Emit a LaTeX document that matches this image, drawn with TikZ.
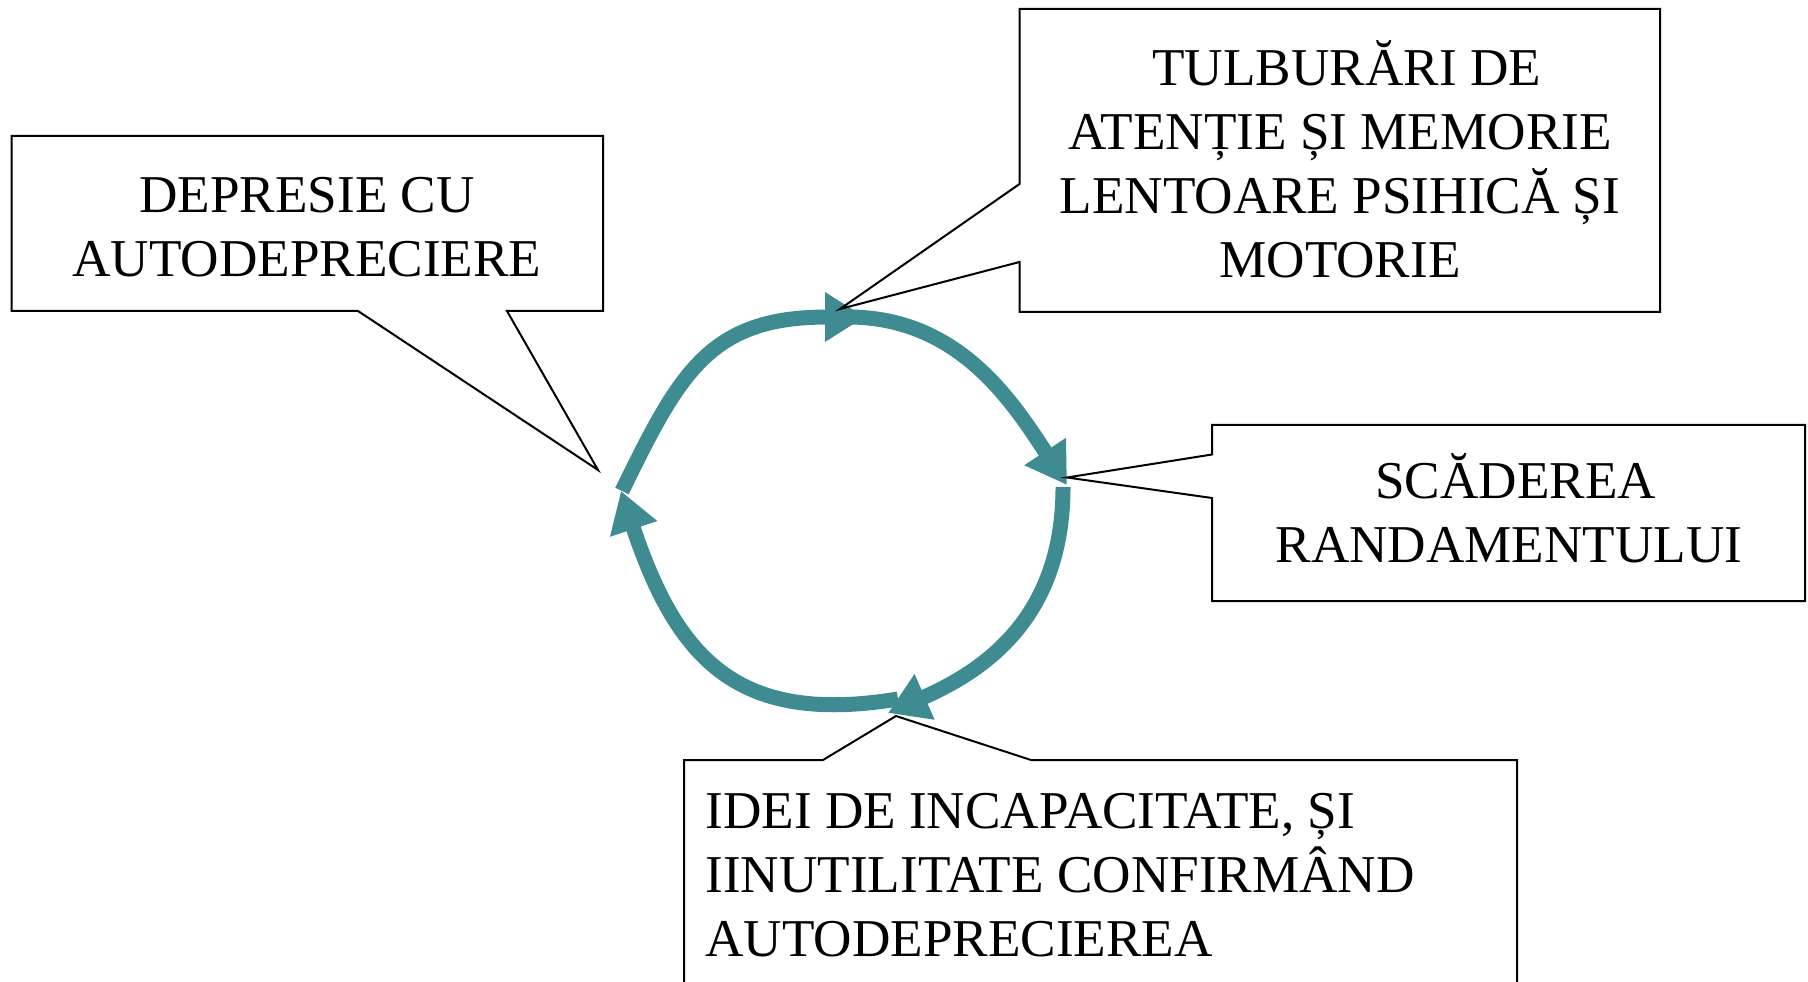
\documentclass[tikz,border=0pt]{standalone}
\usepackage{fontspec}
\setmainfont{Liberation Serif}
\usepackage{tikz}
\usetikzlibrary{arrows.meta}
\definecolor{cycteal}{RGB}{62,140,146}
\newcommand{\lblfont}{\fontsize{26.6pt}{32pt}\selectfont}

\begin{document}
\begin{tikzpicture}[x=0.5pt, y=0.5pt,
  lbl/.style={font=\lblfont, inner sep=0pt, align=center},
  callout/.style={draw, line width=1pt, line join=miter},
  cyc/.style={draw=cycteal, line width=7.5pt, -{Triangle[length=20pt, width=23.5pt]}}]
\useasboundingbox (0,0) rectangle (1808,981);
\clip (0,0) rectangle (1808,981);
\coordinate (pL) at (621,490); \coordinate (pT) at (865,664);
\coordinate (pR) at (1067,496); \coordinate (pB) at (888,268);
\draw[cyc] (622,490) .. controls (680,609) and (710,664) .. (pT);
\draw[cyc] (848,664) .. controls (958,664) and (1012,580) .. (pR);
\draw[cyc] (1063,494) .. controls (1063,366) and (988,312) .. (pB);
\draw[cyc] (898,282) .. controls (740,256) and (678,319) .. (pL);
\node[lbl] (dep) at (307,753.5) {DEPRESIE CU\\AUTODEPRECIERE};
\node[lbl] (tulb) at (1340,822) {\kern0.25em TULBURĂRI DE\\ATENȚIE ȘI MEMORIE\\LENTOARE PSIHICĂ ȘI\\MOTORIE};
\node[lbl] (scad) at (1509,472.5) {\kern0.25em SCĂDEREA\\RANDAMENTULUI};
\node[lbl, align=left, anchor=north west] (idei) at (705,188) {IDEI DE INCAPACITATE, ȘI\\IINUTILITATE CONFIRMÂND\\AUTODEPRECIEREA};
\coordinate (depTip) at (598,511); \coordinate (tulbTip) at (840,672);
\coordinate (scadTip) at (1067,503.5); \coordinate (ideiTip) at (896,265);
\draw[callout] (11.5,845) -- (603,845) -- (603,670) -- (507,670) -- (depTip) -- (358,670) -- (11.5,670) -- cycle;
\draw[callout] (1019.5,972) -- (1660,972) -- (1660,669) -- (1019.5,669) -- (1019.5,719) -- (tulbTip) -- (1019.5,797) -- cycle;
\draw[callout] (1212,556) -- (1805,556) -- (1805,380) -- (1212,380) -- (1212,483) -- (scadTip) -- (1212,526.5) -- cycle;
\draw[callout] (684,-20) -- (684,221) -- (823,221) -- (ideiTip) -- (1031,221) -- (1517,221) -- (1517,-20);
\end{tikzpicture}
\end{document}
